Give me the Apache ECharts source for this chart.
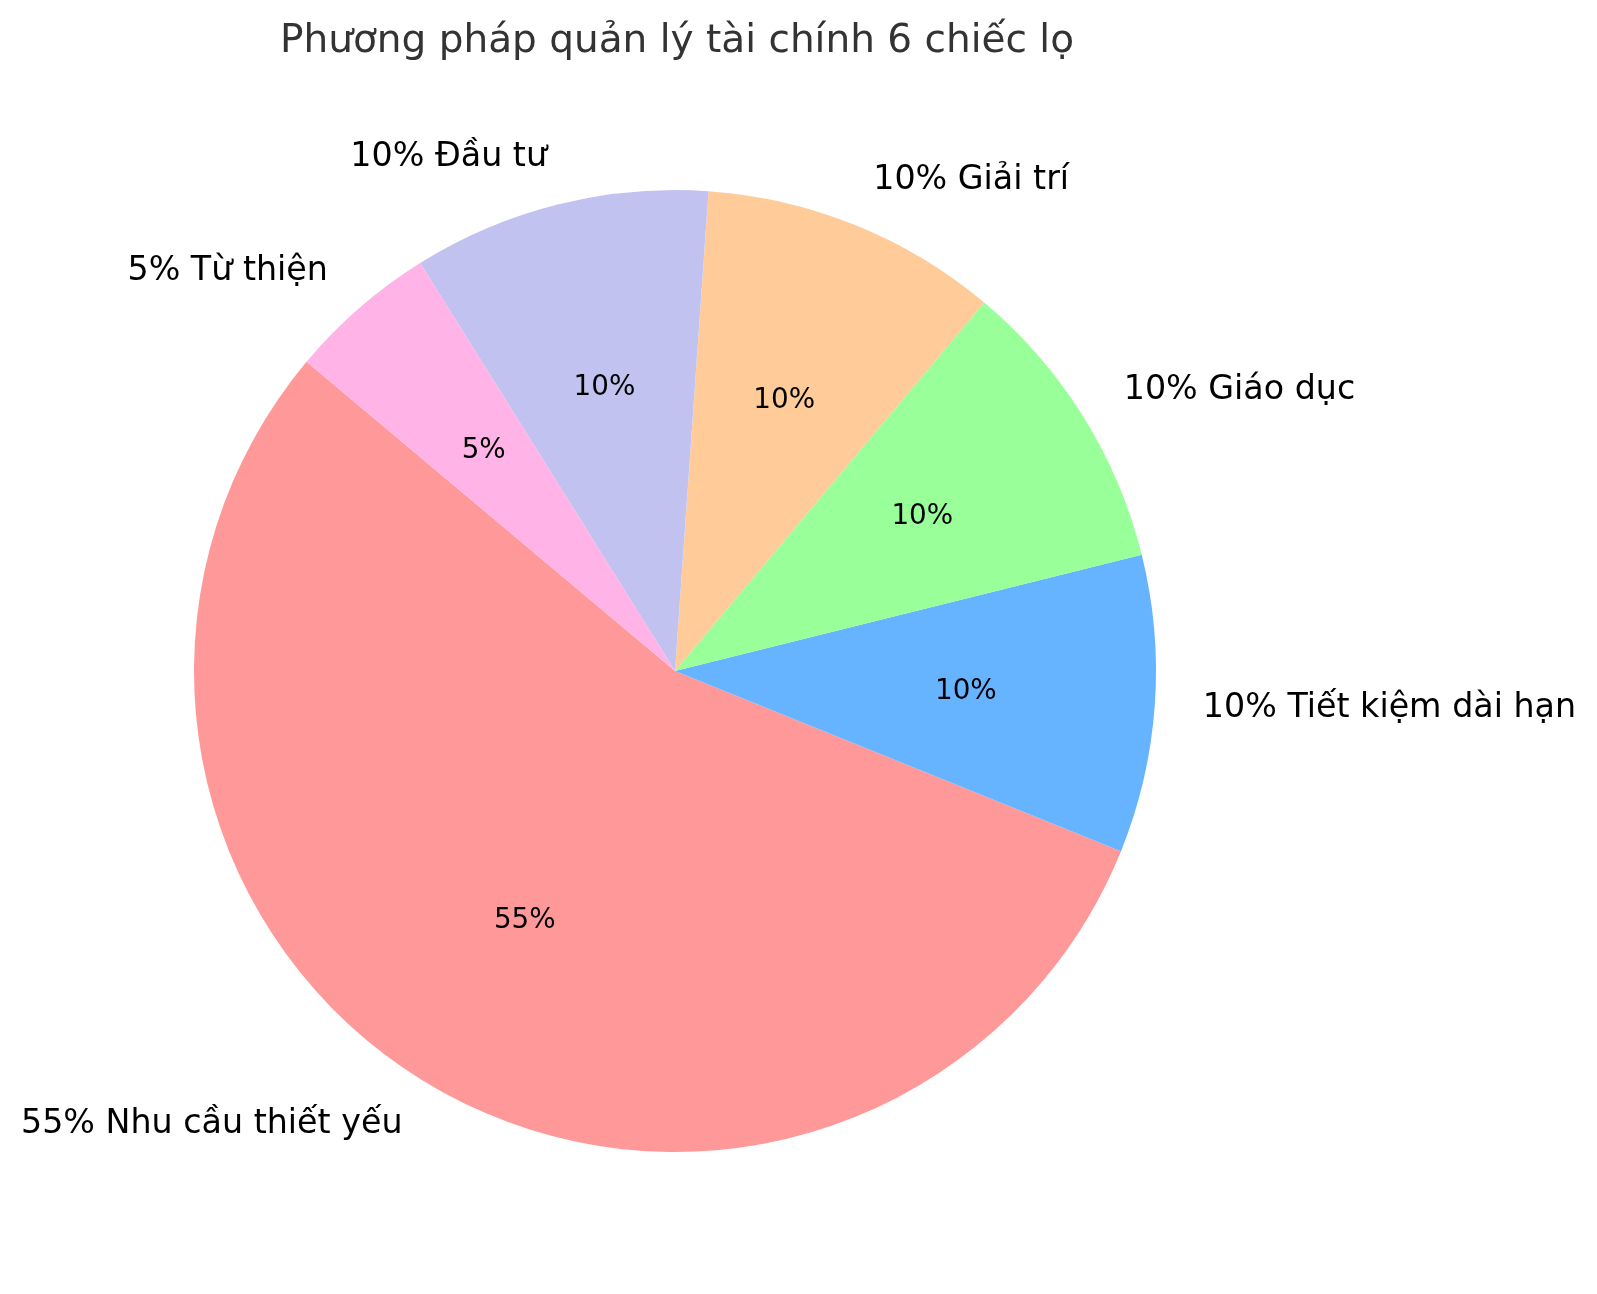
<!DOCTYPE html>
<html>
<head>
<meta charset="utf-8">
<script src="https://cdn.jsdelivr.net/npm/echarts@6/dist/echarts.min.js"></script>
<style>
html,body{margin:0;padding:0;background:#fff;}
#chart{width:1597px;height:1294px;}
</style>
</head>
<body>
<div id="chart"></div>
<script>
const titleText = 'Phương pháp quản lý tài chính 6 chiếc lọ';
const categories = ['Nhu cầu thiết yếu', 'Tiết kiệm dài hạn', 'Giáo dục', 'Giải trí', 'Đầu tư', 'Từ thiện'];
const values = [55, 10, 10, 10, 10, 5];
const colors = ['#ff9999', '#66b3ff', '#99ff99', '#ffcc99', '#c2c2f0', '#ffb3e6'];

const CX = 675, CY = 671, R = 481;
const FONT = 'DejaVu Sans';

const chart = echarts.init(document.getElementById('chart'), null, {renderer: 'canvas'});

const mainData = categories.map((c, i) => ({
  name: c, value: values[i], itemStyle: {color: colors[i]}
}));
const pctData = categories.map((c, i) => ({
  name: c, value: values[i], itemStyle: {color: 'rgba(0,0,0,0)'}
}));

chart.setOption({
  animation: false,
  backgroundColor: '#ffffff',
  title: {
    text: titleText,
    left: 672,
    top: 17,
    textAlign: 'center',
    textStyle: {fontFamily: FONT, fontSize: 39, fontWeight: 'normal', color: '#333333'}
  },
  series: [
    {
      type: 'pie',
      center: [CX, CY],
      radius: [0, R],
      startAngle: 140,
      clockwise: false,
      avoidLabelOverlap: false,
      silent: true,
      data: mainData,
      label: {
        show: true,
        position: 'outside',
        overflow: 'none',
        distanceToLabelLine: 0,
        bleedMargin: 0,
        formatter: p => p.value + '% ' + p.name,
        fontFamily: FONT,
        fontSize: 33.3,
        color: '#000000'
      },
      labelLine: {show: false, length: R * 0.1, length2: 0}
    },
    {
      type: 'pie',
      center: [CX, CY],
      radius: [0, R * 1.2],
      startAngle: 140,
      clockwise: false,
      avoidLabelOverlap: false,
      silent: true,
      data: pctData,
      label: {
        show: true,
        position: 'inside',
        formatter: p => p.value + '%',
        fontFamily: FONT,
        fontSize: 27.8,
        color: '#000000'
      },
      labelLine: {show: false}
    }
  ]
});
</script>
</body>
</html>
